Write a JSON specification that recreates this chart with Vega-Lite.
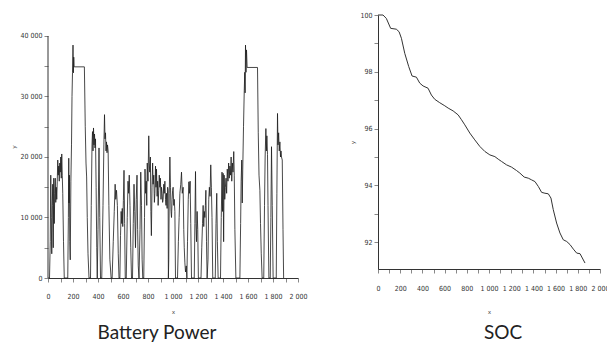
{
  "$schema": "https://vega.github.io/schema/vega-lite/v6.json",
  "background": "white",
  "padding": {"left": 10, "top": 11, "right": 0, "bottom": 0},
  "bounds": "flush",
  "spacing": 80,
  "config": {
    "view": {"stroke": null},
    "axis": {
      "grid": false,
      "labelFont": "DejaVu Sans Condensed, Liberation Sans Narrow, Liberation Sans",
      "labelFontSize": 7,
      "labelColor": "#333",
      "domainColor": "#333",
      "labelOverlap": false,
      "labelFlush": false,
      "labelBound": false,
      "titleFont": "Liberation Sans",
      "titleFontSize": 6,
      "titleFontWeight": "normal",
      "titleColor": "#333"
    },
    "title": {"font": "Lato", "fontSize": 19, "fontWeight": "normal", "color": "#222"}
  },
  "datasets": {
    "axisline": [{"t": 0, "p": 0, "p2": 40000}],
    "power": [
      {"t":0,"p":0},{"t":12,"p":0},{"t":18,"p":6000},{"t":22,"p":17000},{"t":26,"p":10000},{"t":30,"p":4000},{"t":34,"p":12000},{"t":38,"p":15500},{"t":42,"p":5000},{"t":46,"p":16500},{"t":50,"p":9000},{"t":54,"p":14000},{"t":58,"p":16500},{"t":62,"p":12500},{"t":66,"p":15000},{"t":70,"p":13000},{"t":74,"p":16000},{"t":78,"p":19500},{"t":82,"p":17000},{"t":86,"p":18500},{"t":90,"p":16000},{"t":94,"p":19000},{"t":98,"p":17500},{"t":102,"p":20000},{"t":106,"p":16500},{"t":110,"p":20500},{"t":114,"p":17000},{"t":118,"p":14000},{"t":124,"p":6000},{"t":130,"p":0},
      {"t":158,"p":0},{"t":163,"p":10000},{"t":166,"p":19800},{"t":168,"p":12400},{"t":171,"p":17000},{"t":174,"p":6000},{"t":178,"p":3000},{"t":183,"p":16000},{"t":188,"p":22000},{"t":192,"p":30000},{"t":196,"p":34000},{"t":200,"p":38500},{"t":203,"p":33900},{"t":206,"p":36500},{"t":209,"p":34900},{"t":291,"p":34900},{"t":298,"p":25000},{"t":304,"p":19000},{"t":309,"p":16700},{"t":314,"p":10000},{"t":320,"p":4000},{"t":328,"p":0},
      {"t":340,"p":0},{"t":346,"p":12000},{"t":352,"p":22000},{"t":356,"p":24200},{"t":360,"p":21000},{"t":364,"p":24800},{"t":368,"p":22000},{"t":372,"p":23800},{"t":376,"p":21500},{"t":380,"p":23000},{"t":385,"p":15000},{"t":390,"p":5000},{"t":394,"p":0},{"t":400,"p":8000},{"t":408,"p":21500},{"t":414,"p":10000},{"t":420,"p":0},{"t":430,"p":0},{"t":440,"p":12000},{"t":447,"p":22000},{"t":452,"p":27000},{"t":456,"p":23000},{"t":460,"p":24000},{"t":464,"p":21000},{"t":468,"p":22500},{"t":472,"p":20700},{"t":476,"p":22000},{"t":481,"p":21000},{"t":487,"p":12000},{"t":495,"p":3000},{"t":505,"p":0},
      {"t":513,"p":0},{"t":522,"p":6000},{"t":530,"p":11000},{"t":537,"p":15500},{"t":542,"p":13000},{"t":548,"p":14500},{"t":555,"p":12000},{"t":562,"p":4000},{"t":568,"p":0},{"t":575,"p":0},{"t":580,"p":7000},{"t":585,"p":11000},{"t":590,"p":9000},{"t":594,"p":11500},{"t":598,"p":8500},{"t":603,"p":12800},{"t":608,"p":17800},{"t":613,"p":9000},{"t":618,"p":0},{"t":626,"p":0},{"t":634,"p":10000},{"t":640,"p":16000},{"t":645,"p":14000},{"t":650,"p":17000},{"t":656,"p":12000},{"t":662,"p":5000},{"t":668,"p":0},{"t":676,"p":0},{"t":682,"p":9000},{"t":688,"p":15500},{"t":694,"p":11000},{"t":700,"p":5000},{"t":706,"p":13000},{"t":712,"p":17000},{"t":717,"p":8000},{"t":722,"p":2000},{"t":728,"p":0},{"t":736,"p":8000},{"t":742,"p":17500},{"t":748,"p":12000},{"t":753,"p":3000},{"t":758,"p":0},
      {"t":766,"p":0},{"t":772,"p":10000},{"t":776,"p":18000},{"t":781,"p":14000},{"t":786,"p":16000},{"t":790,"p":12000},{"t":794,"p":19000},{"t":800,"p":16000},{"t":806,"p":23500},{"t":810,"p":19000},{"t":814,"p":17500},{"t":819,"p":20000},{"t":823,"p":11000},{"t":827,"p":7000},{"t":832,"p":15000},{"t":837,"p":19000},{"t":841,"p":15500},{"t":846,"p":17000},{"t":851,"p":12500},{"t":855,"p":14000},{"t":860,"p":18500},{"t":864,"p":15000},{"t":868,"p":18000},{"t":873,"p":13500},{"t":877,"p":16000},{"t":881,"p":12000},{"t":886,"p":14500},{"t":890,"p":17000},{"t":895,"p":15000},{"t":899,"p":16500},{"t":904,"p":13000},{"t":908,"p":15000},{"t":913,"p":14000},{"t":917,"p":12500},{"t":921,"p":13000},{"t":926,"p":15500},{"t":930,"p":14000},{"t":935,"p":16000},{"t":940,"p":13000},{"t":944,"p":12000},{"t":948,"p":14000},{"t":953,"p":11500},{"t":957,"p":15000},{"t":961,"p":14500},{"t":963,"p":0},{"t":966,"p":3000},{"t":970,"p":14000},{"t":975,"p":20000},{"t":980,"p":15000},{"t":984,"p":11000},{"t":988,"p":10000},{"t":993,"p":13000},{"t":997,"p":14500},{"t":1001,"p":15000},{"t":1006,"p":12000},{"t":1010,"p":13000},{"t":1015,"p":11000},{"t":1020,"p":0},
      {"t":1036,"p":0},{"t":1043,"p":6000},{"t":1049,"p":10000},{"t":1055,"p":14000},{"t":1062,"p":15500},{"t":1068,"p":17500},{"t":1074,"p":14000},{"t":1081,"p":15000},{"t":1086,"p":8000},{"t":1090,"p":5000},{"t":1095,"p":2500},{"t":1100,"p":1000},{"t":1106,"p":2000},{"t":1111,"p":0},{"t":1116,"p":6000},{"t":1122,"p":13000},{"t":1127,"p":15900},{"t":1132,"p":14000},{"t":1137,"p":16000},{"t":1142,"p":9000},{"t":1148,"p":0},{"t":1170,"p":0},{"t":1175,"p":9000},{"t":1180,"p":17600},{"t":1184,"p":9000},{"t":1188,"p":6000},{"t":1193,"p":11000},{"t":1198,"p":8000},{"t":1203,"p":0},{"t":1224,"p":0},{"t":1230,"p":5000},{"t":1236,"p":9000},{"t":1241,"p":12000},{"t":1246,"p":8500},{"t":1250,"p":11000},{"t":1255,"p":10000},{"t":1259,"p":12000},{"t":1263,"p":14500},{"t":1268,"p":6000},{"t":1273,"p":0},{"t":1280,"p":3000},{"t":1286,"p":13000},{"t":1291,"p":15000},{"t":1296,"p":13500},{"t":1302,"p":18700},{"t":1307,"p":15000},{"t":1312,"p":10000},{"t":1318,"p":0},{"t":1338,"p":0},{"t":1344,"p":9000},{"t":1350,"p":14000},{"t":1355,"p":6000},{"t":1361,"p":0},
      {"t":1380,"p":0},{"t":1386,"p":10000},{"t":1392,"p":17500},{"t":1396,"p":11000},{"t":1401,"p":17300},{"t":1405,"p":6000},{"t":1409,"p":17000},{"t":1414,"p":13000},{"t":1419,"p":15000},{"t":1424,"p":16500},{"t":1429,"p":14000},{"t":1434,"p":18000},{"t":1440,"p":16000},{"t":1445,"p":19000},{"t":1450,"p":16500},{"t":1455,"p":18500},{"t":1460,"p":17000},{"t":1465,"p":20000},{"t":1470,"p":16000},{"t":1475,"p":19000},{"t":1480,"p":17500},{"t":1486,"p":20900},{"t":1490,"p":17000},{"t":1495,"p":8000},{"t":1503,"p":0},
      {"t":1535,"p":0},{"t":1541,"p":9000},{"t":1545,"p":16000},{"t":1550,"p":19500},{"t":1554,"p":12400},{"t":1558,"p":18000},{"t":1564,"p":25000},{"t":1570,"p":31000},{"t":1574,"p":34000},{"t":1577,"p":30600},{"t":1580,"p":38500},{"t":1584,"p":34000},{"t":1588,"p":37700},{"t":1593,"p":34800},{"t":1676,"p":34800},{"t":1682,"p":24000},{"t":1688,"p":17000},{"t":1695,"p":14500},{"t":1700,"p":9000},{"t":1706,"p":4000},{"t":1713,"p":0},
      {"t":1726,"p":0},{"t":1732,"p":12000},{"t":1737,"p":20000},{"t":1743,"p":24700},{"t":1747,"p":21000},{"t":1751,"p":23500},{"t":1756,"p":20400},{"t":1760,"p":12000},{"t":1767,"p":0},{"t":1778,"p":0},{"t":1783,"p":10000},{"t":1788,"p":21700},{"t":1794,"p":12000},{"t":1801,"p":0},{"t":1826,"p":0},{"t":1831,"p":14000},{"t":1836,"p":27200},{"t":1840,"p":22000},{"t":1845,"p":24000},{"t":1850,"p":21000},{"t":1855,"p":22500},{"t":1860,"p":20000},{"t":1864,"p":21000},{"t":1868,"p":20000},{"t":1874,"p":19500},{"t":1880,"p":8000},{"t":1885,"p":0}
    ],
    "soc": [
      {"t":0,"s":100},{"t":45,"s":100},{"t":75,"s":99.88},{"t":114,"s":99.53},{"t":165,"s":99.5},{"t":190,"s":99.41},{"t":211,"s":99.18},{"t":241,"s":98.65},{"t":277,"s":98.18},{"t":307,"s":97.85},{"t":346,"s":97.81},{"t":376,"s":97.6},{"t":406,"s":97.5},{"t":451,"s":97.42},{"t":481,"s":97.18},{"t":511,"s":97.03},{"t":556,"s":96.91},{"t":602,"s":96.8},{"t":632,"s":96.72},{"t":677,"s":96.62},{"t":722,"s":96.48},{"t":752,"s":96.31},{"t":782,"s":96.13},{"t":827,"s":95.84},{"t":872,"s":95.6},{"t":917,"s":95.37},{"t":963,"s":95.19},{"t":1008,"s":95.07},{"t":1053,"s":95.01},{"t":1083,"s":94.92},{"t":1113,"s":94.84},{"t":1158,"s":94.72},{"t":1203,"s":94.64},{"t":1248,"s":94.52},{"t":1278,"s":94.43},{"t":1317,"s":94.29},{"t":1354,"s":94.25},{"t":1384,"s":94.19},{"t":1414,"s":94.13},{"t":1444,"s":93.96},{"t":1474,"s":93.75},{"t":1504,"s":93.72},{"t":1534,"s":93.7},{"t":1558,"s":93.55},{"t":1579,"s":93.14},{"t":1609,"s":92.67},{"t":1639,"s":92.32},{"t":1669,"s":92.08},{"t":1700,"s":92.02},{"t":1730,"s":91.91},{"t":1760,"s":91.75},{"t":1790,"s":91.61},{"t":1820,"s":91.59},{"t":1865,"s":91.26}
    ]
  },
  "hconcat": [
    {
      "width": 250,
      "height": 263,
      "title": {"text": "Battery  Power", "orient": "bottom", "anchor": "middle", "dx": -16, "offset": 10},
      "encoding": {
        "x": {"field": "t", "type": "quantitative", "scale": {"domain": [0, 2000], "nice": false},
          "axis": {"title": "x", "tickSize": 4, "tickCount": 20, "labelExpr": "datum.value % 200 == 0 ? replace(format(datum.value, ','), ',', ' ') : ''", "labelPadding": 10, "titlePadding": 9}},
        "y": {"field": "p", "type": "quantitative", "scale": {"domain": [0, 43471], "nice": false},
          "axis": {"title": "y", "tickSize": 4, "tickCount": 8, "domain": false, "labelExpr": "datum.value % 10000 == 0 ? replace(format(datum.value, ','), ',', ' ') : ''", "labelPadding": 2, "titlePadding": 3}}
      },
      "layer": [
        {
          "data": {"name": "power"},
          "mark": {"type": "line", "color": "#1a1a1a", "strokeWidth": 0.8}
        },
        {
          "data": {"name": "axisline"},
          "mark": {"type": "rule", "color": "#333", "strokeWidth": 1},
          "encoding": {"y2": {"field": "p2"}}
        }
      ]
    },
    {
      "width": 222,
      "height": 254,
      "title": {"text": "SOC", "orient": "bottom", "anchor": "middle", "dx": 14, "offset": 10},
      "data": {"name": "soc"},
      "mark": {"type": "line", "color": "#333", "strokeWidth": 1},
      "encoding": {
        "x": {"field": "t", "type": "quantitative", "scale": {"domain": [0, 2000], "nice": false},
          "axis": {"title": "x", "tickSize": 4, "tickCount": 20, "labelExpr": "datum.value % 200 == 0 ? replace(format(datum.value, ','), ',', ' ') : ''", "labelPadding": 11, "titlePadding": 17}},
        "y": {"field": "s", "type": "quantitative", "scale": {"domain": [91.05, 100], "nice": false, "zero": false},
          "axis": {"title": "y", "tickSize": 4, "tickCount": 9, "labelExpr": "datum.value % 2 == 0 ? format(datum.value, 'd') : ''", "labelPadding": 2, "titlePadding": 4}}
      }
    }
  ]
}
